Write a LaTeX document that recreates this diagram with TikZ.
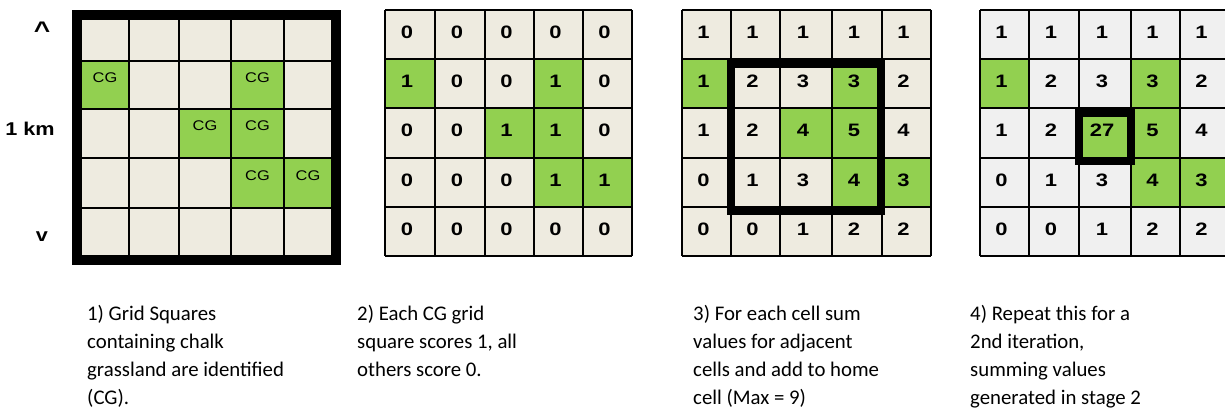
\documentclass[tikz,border=0pt]{standalone}
\usepackage{fontspec}
\setmainfont{Liberation Sans}
\newfontfamily\capfont{Carlito}
\newfontfamily\widefont[FakeStretch=1.17]{Liberation Sans}
\newfontfamily\numfont[FakeStretch=1.22]{Liberation Sans}
\definecolor{cgreen}{HTML}{92D050}
\definecolor{beige}{HTML}{EEEBE0}
\definecolor{lgray}{HTML}{F0F0F0}

\newcommand\gridcells[4]{%
  \foreach \r in {0,...,4}{\foreach \c in {0,...,4}{%
    \pgfmathsetmacro\xl{#1[\c]}\pgfmathsetmacro\xr{#1[\c+1]}%
    \pgfmathsetmacro\yt{#2[\r]}\pgfmathsetmacro\yb{#2[\r+1]}%
    \fill[#3] (\xl,\yt) rectangle (\xr,\yb);
    \coordinate (#4-\r-\c) at ({(\xl+\xr)/2},{(\yt+\yb)/2});
  }}%
  \foreach \r/\c in {1/0,1/3,2/2,2/3,3/3,3/4}{%
    \pgfmathsetmacro\xl{#1[\c]}\pgfmathsetmacro\xr{#1[\c+1]}%
    \pgfmathsetmacro\yt{#2[\r]}\pgfmathsetmacro\yb{#2[\r+1]}%
    \fill[cgreen] (\xl,\yt) rectangle (\xr,\yb);
  }%
  \foreach \i in {0,...,5}{%
    \pgfmathsetmacro\xl{#1[\i]}\pgfmathsetmacro\yt{#2[\i]}%
    \pgfmathsetmacro\ya{#2[0]}\pgfmathsetmacro\yz{#2[5]}%
    \pgfmathsetmacro\xa{#1[0]}\pgfmathsetmacro\xz{#1[5]}%
    \draw[gridline] (\xl,\ya) -- (\xl,\yz);
    \draw[gridline] (\xa,\yt) -- (\xz,\yt);
  }%
}
\newcommand\gridnums[2]{%
  \foreach \r in {0,...,4}{\foreach \c in {0,...,4}{%
    \pgfmathtruncatemacro\v{#2[\r*5+\c]}%
    \node[num] (#1n-\r-\c) at ([shift={(-3,3.5)}]#1-\r-\c) {\v};
  }}%
}

\begin{document}
\begin{tikzpicture}[x=1pt,y=-1pt,
  gridline/.style={draw=black,line width=1.5pt},
  num/.style={font=\numfont\fontsize{18}{18}\selectfont\bfseries,inner sep=0pt,anchor=base},
  cg/.style={font=\widefont\fontsize{14}{14}\selectfont,inner sep=0pt,anchor=base},
  side/.style={font=\widefont\fontsize{18.5}{19}\selectfont\bfseries,inner sep=0pt,anchor=base},
  caption/.style={font=\capfont\fontsize{20.8}{28.3}\selectfont,align=left,anchor=base west,inner sep=0pt},
  heavy/.style={draw=black,line width=8pt}]
\useasboundingbox (0,0) rectangle (1225,412);

% Grid 1
\gridcells{{81,129,179,231,284,332}}{{19,61,109,158,208,256}}{beige}{ga}
\draw[draw=black,line width=9pt] (76.5,14.5) rectangle (336.5,260.5);
\foreach \r/\c in {1/0,1/3,2/2,2/3,3/3,3/4}{
  \node[cg] (gacg-\r-\c) at ([shift={(0,-3)}]ga-\r-\c) {CG};
}
\node[side,font=\widefont\fontsize{24}{24}\selectfont\bfseries] (up) at (42,38) {\textasciicircum};
\node[side] (km) at (30,135) {1 km};
\node[side] (down) at (42,241.5) {v};

% Grid 2
\gridcells{{385,435,485,534,583,632}}{{10,59,108,158,207,256}}{beige}{gb}
\gridnums{gb}{{0,0,0,0,0, 1,0,0,1,0, 0,0,1,1,0, 0,0,0,1,1, 0,0,0,0,0}}

% Grid 3
\gridcells{{682,731,780,832,882,931}}{{10,59,108,158,207,256}}{beige}{gc}
\gridnums{gc}{{1,1,1,1,1, 1,2,3,3,2, 1,2,4,5,4, 0,1,3,4,3, 0,0,1,2,2}}
\draw[heavy] (731,64) rectangle (881,210.5);

% Grid 4
\gridcells{{980,1029,1079,1131,1180,1229}}{{10,59,108,158,207,256}}{lgray}{gd}
\gridnums{gd}{{1,1,1,1,1, 1,2,3,3,2, 1,2,27,5,4, 0,1,3,4,3, 0,0,1,2,2}}
\draw[heavy] (1078.5,112.5) rectangle (1130.5,161);

% Captions (base anchor = baseline of last line)
\node[caption] (cap1) at (87,404.9) {1) Grid Squares\\containing chalk\\grassland are identified\\(CG).};
\node[caption] (cap2) at (357,376.6) {2) Each CG grid\\square scores 1, all\\others score 0.};
\node[caption] (cap3) at (693,404.9) {3) For each cell sum\\values for adjacent\\cells and add to home\\cell (Max = 9)};
\node[caption] (cap4) at (970,404.9) {4) Repeat this for a\\2nd iteration,\\summing values\\generated in stage 2};
\end{tikzpicture}
\end{document}
